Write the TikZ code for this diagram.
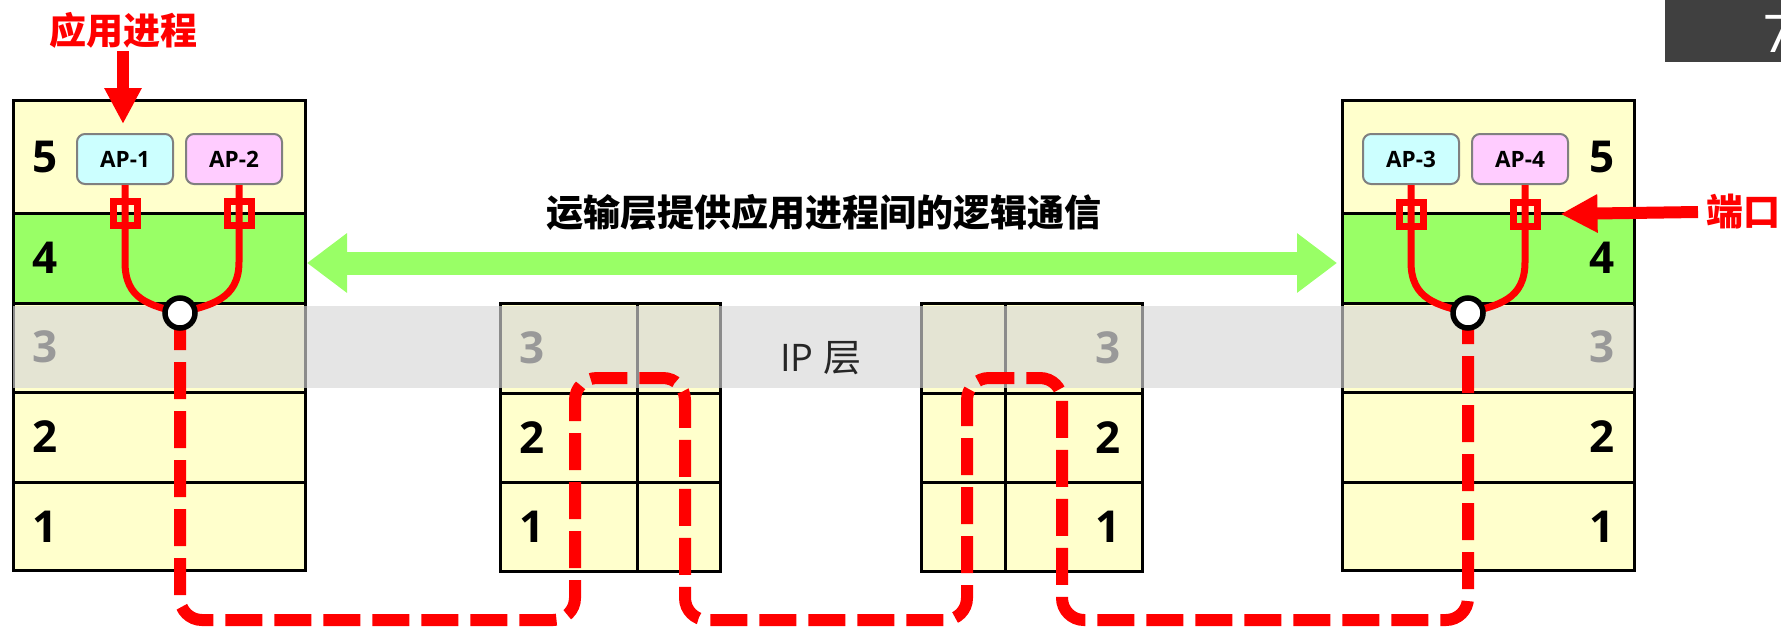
\documentclass[tikz,border=0pt]{standalone}
\usepackage{fontspec}
\setmainfont{Open Sans}
\newfontfamily\cjk{Noto Sans CJK SC}
\usetikzlibrary{arrows.meta}
\definecolor{rowyel}{HTML}{FFFFCC}
\definecolor{rowgrn}{HTML}{99FF66}
\definecolor{apcyan}{HTML}{CCFFFF}
\definecolor{appink}{HTML}{FFCCFF}
\definecolor{ipgray}{HTML}{D7D7D7}

\begin{document}
\begin{tikzpicture}[x=1pt, y=-1pt,
	layer/.style={draw=black, line width=3pt},
	num/.style={font=\fontsize{44}{44}\selectfont\bfseries},
	apbox/.style={draw=black!50, line width=2pt, rounded corners=8pt, minimum width=96pt, minimum height=50pt, font=\fontsize{22.5}{22.5}\selectfont\bfseries},
	port/.style={draw=red, line width=7pt, minimum size=24pt, inner sep=0pt},
	sock/.style={circle, draw=black, line width=5.5pt, fill=white, minimum size=30pt, inner sep=0pt},
	wire/.style={draw=red, line width=7pt},
	redlbl/.style={red, inner sep=0pt, font=\cjk\fontsize{37}{37}\selectfont\bfseries}]
		%%%%% START %%%%%
		\useasboundingbox (0,0) rectangle (1781,627);
		
		% host stacks
		\foreach \xa/\xb in {13/305, 1342/1634} {
			\draw[layer, fill=rowyel] (\xa,100) rectangle (\xb,213);
			\draw[layer, fill=rowgrn] (\xa,213) rectangle (\xb,303);
			\draw[layer, fill=rowyel] (\xa,303) rectangle (\xb,392);
			\draw[layer, fill=rowyel] (\xa,392) rectangle (\xb,482);
			\draw[layer, fill=rowyel] (\xa,482) rectangle (\xb,570);
		}
		
		% routers
		\foreach \xa/\xm/\xb in {500/637/720, 921/1005/1142} {
			\foreach \ya/\yb in {303/393, 393/482, 482/571} {
				\draw[layer, fill=rowyel] (\xa,\ya) rectangle (\xm,\yb);
				\draw[layer, fill=rowyel] (\xm,\ya) rectangle (\xb,\yb);
			}
		}
		
		% IP band
		\fill[ipgray, opacity=0.65] (13,306) rectangle (1634,388);
		\node[font=\fontsize{38}{38}\selectfont, text=black!85] (ip) at (821,358) {IP {\cjk 层}};
		
		% layer numbers
		\foreach \x in {45, 1602} {
			\node[num] at (\x,157) {5};
			\node[num] at (\x,258) {4};
			\node[num, text=black!40] at (\x,347) {3};
			\node[num] at (\x,437) {2};
			\node[num] at (\x,527) {1};
		}
		\foreach \x in {532, 1108} {
			\node[num, text=black!40] at (\x,348) {3};
			\node[num] at (\x,438) {2};
			\node[num] at (\x,527) {1};
		}
		
		% transport arrow
		\coordinate (tpL) at (307,263);
		\coordinate (tpR) at (1337,263);
		\draw[rowgrn, line width=23pt, {Triangle[length=40pt, width=57pt]}-{Triangle[length=40pt, width=57pt]}] (tpL) -- (tpR);
		\node[font=\cjk\fontsize{37}{37}\selectfont\bfseries] (title) at (824,212) {运输层提供应用进程间的逻辑通信};
		
		% application processes
		\node[apbox, fill=apcyan] (ap1) at (125,159) {AP-1};
		\node[apbox, fill=appink] (ap2) at (234,159) {AP-2};
		\node[apbox, fill=apcyan] (ap3) at (1411,159) {AP-3};
		\node[apbox, fill=appink] (ap4) at (1520,159) {AP-4};
		
		\coordinate (sockLc) at (180,313);
		\coordinate (sockRc) at (1468,313);
		
		% wires to sockets
		\draw[wire] (125,185) -- (125,262) .. controls (125,300) and (150,305) .. (sockLc);
		\draw[wire] (239,185) -- (239,262) .. controls (239,300) and (210,305) .. (sockLc);
		\draw[wire] (1411,185) -- (1411,262) .. controls (1411,300) and (1438,305) .. (sockRc);
		\draw[wire] (1525,185) -- (1525,262) .. controls (1525,300) and (1498,305) .. (sockRc);
		
		% ports
		\node[port] (pt1) at (125,213) {};
		\node[port] (pt2) at (239,213) {};
		\node[port] (pt3) at (1411,214) {};
		\node[port] (pt4) at (1525,214) {};
		
		% logical path
		\draw[red, line width=12pt, dash pattern=on 37pt off 12pt, rounded corners=22pt] (sockLc) -- (180,620) -- (575,620) -- (575,378) -- (685,378) -- (685,620) -- (967,620) -- (967,378) -- (1062,378) -- (1062,620) -- (1468,620) -- (sockRc);
		
		\node[sock] (sockL) at (sockLc) {};
		\node[sock] (sockR) at (sockRc) {};
		
		% red callouts
		\node[redlbl] (procLbl) at (123,30) {应用进程};
		\draw[red, line width=12pt, -{Triangle[length=36pt, width=35pt]}] ([yshift=-3pt]procLbl.south) -- ([yshift=9pt]procLbl.south |- ap1.north);
		\node[redlbl, anchor=west] (portLbl) at (1706,212) {端口};
		\draw[red, line width=12pt, -{Triangle[length=37pt, width=36pt]}] ([xshift=-8pt]portLbl.west) -- ([xshift=20pt]pt4.east);
		
		% page tab
		\begin{scope}
			\clip (0,0) rectangle (1781,627);
			\fill[black!75] (1665,0) rectangle (1781,62);
			\node[text=white, anchor=west, font=\fontsize{52}{52}\selectfont] (pgno) at (1760,34) {7};
		\end{scope}
		
		%%%%% END %%%%%
	\end{tikzpicture}
\end{document}
